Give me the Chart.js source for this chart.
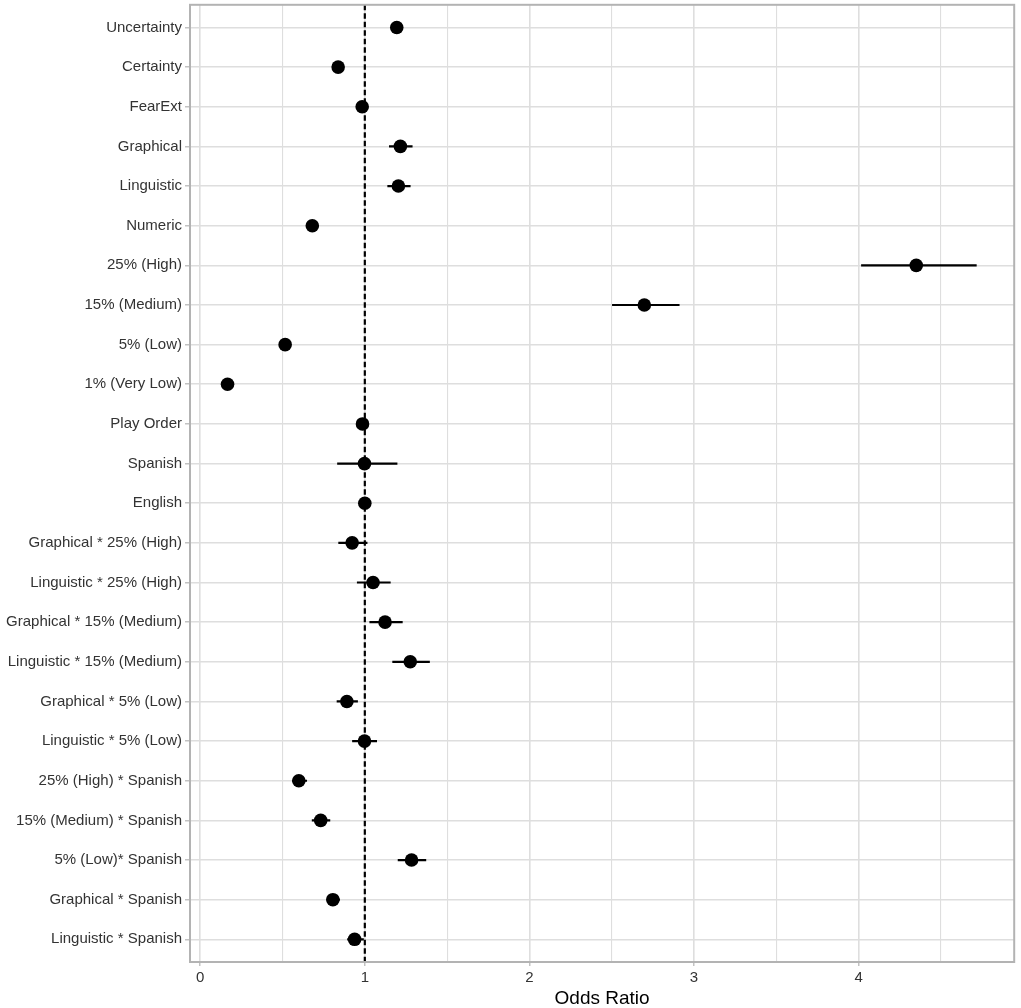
<!DOCTYPE html>
<html>
<head>
<meta charset="utf-8">
<script src="https://cdn.jsdelivr.net/npm/chart.js@4/dist/chart.umd.min.js"></script>
<style>
  html, body { margin: 0; padding: 0; background: #ffffff; overflow: hidden; }
  #wrap { width: 1021px; height: 1008px; position: relative; overflow: hidden; }
  #c { position: absolute; left: 0; top: -2px; }
</style>
</head>
<body>
<div id="wrap"><canvas id="c" width="1021" height="1010"></canvas></div>
<script>
const categories = [
  "Uncertainty", "Certainty", "FearExt", "Graphical", "Linguistic", "Numeric",
  "25% (High)", "15% (Medium)", "5% (Low)", "1% (Very Low)", "Play Order",
  "Spanish", "English", "Graphical * 25% (High)", "Linguistic * 25% (High)",
  "Graphical * 15% (Medium)", "Linguistic * 15% (Medium)", "Graphical * 5% (Low)",
  "Linguistic * 5% (Low)", "25% (High) * Spanish", "15% (Medium) * Spanish",
  "5% (Low)* Spanish", "Graphical * Spanish", "Linguistic * Spanish"
];
const oddsRatio = [
  1.194, 0.838, 0.984, 1.216, 1.204, 0.681,
  4.350, 2.698, 0.516, 0.166, 0.986,
  0.998, 1.000, 0.923, 1.050,
  1.123, 1.276, 0.891,
  0.998, 0.599, 0.732,
  1.284, 0.806, 0.938
];
const ciLower = [
  1.170, 0.815, 0.965, 1.147, 1.137, 0.660,
  4.015, 2.502, 0.500, 0.155, 0.965,
  0.832, 0.980, 0.839, 0.952,
  1.028, 1.167, 0.829,
  0.923, 0.558, 0.678,
  1.200, 0.768, 0.893
];
const ciUpper = [
  1.220, 0.860, 1.000, 1.290, 1.278, 0.700,
  4.717, 2.912, 0.535, 0.180, 1.005,
  1.198, 1.020, 1.016, 1.157,
  1.230, 1.395, 0.958,
  1.074, 0.649, 0.790,
  1.373, 0.849, 0.994
];
const xTicks = [0, 0.5, 1, 1.5, 2, 2.5, 3, 3.5, 4, 4.5];
const referenceLine = 1;
const xTitle = "Odds Ratio";

const FONT = "'Liberation Sans', Arial, Helvetica, sans-serif";

const pointData = oddsRatio.map((v, i) => ({ x: v, y: i }));
const errorData = [];
categories.forEach((_, i) => {
  errorData.push({ x: ciLower[i], y: i });
  errorData.push({ x: ciUpper[i], y: i });
  errorData.push({ x: null, y: i });
});

const refLinePlugin = {
  id: 'refLine',
  beforeDatasetsDraw(chart) {
    const { ctx, chartArea, scales } = chart;
    const px = scales.x.getPixelForValue(referenceLine);
    ctx.save();
    ctx.beginPath();
    ctx.rect(chartArea.left, chartArea.top, chartArea.right - chartArea.left, chartArea.bottom - chartArea.top);
    ctx.clip();
    ctx.strokeStyle = '#000000';
    ctx.lineWidth = 2.2;
    ctx.setLineDash([5.5, 3]);
    ctx.beginPath();
    ctx.moveTo(px, chartArea.top);
    ctx.lineTo(px, chartArea.bottom);
    ctx.stroke();
    ctx.restore();
  }
};

const borderPlugin = {
  id: 'panelBorder',
  afterDatasetsDraw(chart) {
    const { ctx, chartArea } = chart;
    ctx.save();
    ctx.strokeStyle = '#B3B3B3';
    ctx.lineWidth = 2;
    ctx.strokeRect(chartArea.left, chartArea.top, chartArea.right - chartArea.left, chartArea.bottom - chartArea.top);
    ctx.restore();
  }
};

new Chart(document.getElementById('c'), {
  type: 'scatter',
  data: {
    datasets: [
      {
        label: 'OR',
        data: pointData,
        order: 0,
        pointRadius: 6.8,
        pointHoverRadius: 6.8,
        pointBackgroundColor: '#000000',
        pointBorderColor: '#000000',
        pointBorderWidth: 0,
        showLine: false
      },
      {
        label: 'CI',
        data: errorData,
        order: 1,
        showLine: true,
        spanGaps: false,
        borderColor: '#000000',
        borderWidth: 2.2,
        pointRadius: 0,
        pointHoverRadius: 0,
        fill: false
      }
    ]
  },
  options: {
    responsive: false,
    animation: false,
    devicePixelRatio: 1,
    layout: { padding: { top: 2, right: 4, left: 0, bottom: 0 } },
    plugins: {
      legend: { display: false },
      tooltip: { enabled: false }
    },
    scales: {
      x: {
        type: 'linear',
        min: -0.062,
        max: 4.945,
        afterBuildTicks(scale) { scale.ticks = xTicks.map(v => ({ value: v })); },
        afterFit(scale) { scale.height = 46; scale.paddingLeft = 0; scale.paddingRight = 0; },
        ticks: {
          autoSkip: false,
          maxRotation: 0,
          padding: 3,
          color: '#333333',
          font: { family: FONT, size: 15 },
          callback(v) { return Number.isInteger(v) ? String(v) : ''; }
        },
        grid: {
          color: '#DEDEDE',
          lineWidth(ctx) { return Number.isInteger(ctx.tick && ctx.tick.value) ? 1.6 : 1.1; },
          tickColor(ctx) { return Number.isInteger(ctx.tick && ctx.tick.value) ? '#B3B3B3' : 'rgba(0,0,0,0)'; },
          tickLength: 4,
          tickWidth: 1.2,
          drawTicks: true
        },
        border: { display: false },
        title: {
          display: true,
          text: xTitle,
          color: '#000000',
          font: { family: FONT, size: 19 },
          padding: { top: 0, bottom: -2 }
        }
      },
      y: {
        type: 'linear',
        reverse: true,
        min: -0.572,
        max: 23.572,
        afterBuildTicks(scale) { scale.ticks = categories.map((_, i) => ({ value: i })); },
        afterFit(scale) { scale.width = 190; scale.paddingTop = 0; scale.paddingBottom = 0; },
        ticks: {
          autoSkip: false,
          padding: 3,
          color: '#333333',
          font: { family: FONT, size: 15 },
          callback(v) { return categories[v]; }
        },
        grid: {
          color: '#DEDEDE',
          lineWidth: 1.6,
          tickColor: '#B3B3B3',
          tickLength: 5,
          tickWidth: 1.2
        },
        border: { display: false }
      }
    }
  },
  plugins: [refLinePlugin, borderPlugin]
});
</script>
</body>
</html>
